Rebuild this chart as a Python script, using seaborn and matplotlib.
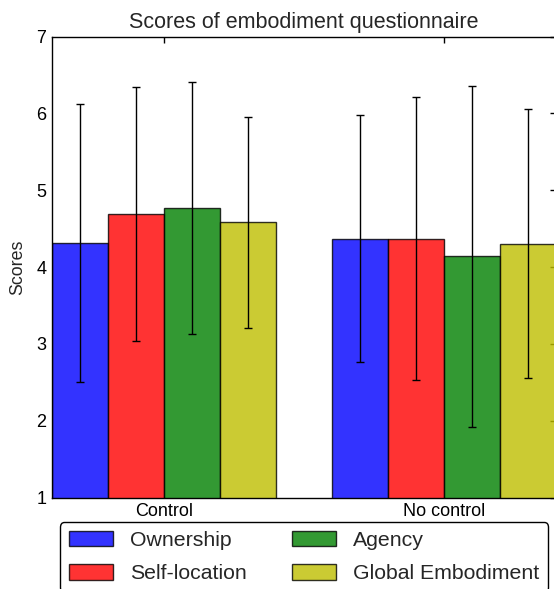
import matplotlib
matplotlib.use("Agg")
import matplotlib.pyplot as plt
import seaborn as sns
import pandas as pd

# Questionnaire results: mean score and standard deviation per condition
groups = ["Control", "No control"]
measures = ["Ownership", "Self-location", "Agency", "Global Embodiment"]
control_means = [4.31, 4.69, 4.77, 4.58]
control_sd = [1.81, 1.65, 1.64, 1.37]
nocontrol_means = [4.37, 4.37, 4.14, 4.30]
nocontrol_sd = [1.61, 1.84, 2.22, 1.75]
y_ticks = [1, 2, 3, 4, 5, 6, 7]

bar_colors = ["#0000ff", "#ff0000", "#008000", "#bfbf00"]

sns.set_style("white")
plt.rcParams["font.family"] = ["Liberation Sans", "DejaVu Sans"]
plt.rcParams["axes.linewidth"] = 1.0

rows = []
for g, means, sds in [(groups[0], control_means, control_sd),
                      (groups[1], nocontrol_means, nocontrol_sd)]:
    for m, v, s in zip(measures, means, sds):
        rows.append({"group": g, "measure": m, "score": v, "sd": s})
df = pd.DataFrame(rows)

fig = plt.figure(figsize=(5.54, 5.89), dpi=100)
ax = fig.add_axes([52 / 554, 1 - 497.5 / 589, 504 / 554, 461 / 589])

sns.barplot(data=df, x="group", y="score", hue="measure", order=groups,
            hue_order=measures, palette=bar_colors, saturation=1, alpha=0.8,
            edgecolor="black", linewidth=1.0, errorbar=None, ax=ax)

# standard-deviation whiskers at the centre of each bar
sd_lookup = {(r.group, r.measure): r.sd for r in df.itertuples()}
for measure, container in zip(measures, ax.containers):
    for group, bar in zip(groups, container):
        xc = bar.get_x() + bar.get_width() / 2
        ax.errorbar(xc, bar.get_height(), yerr=sd_lookup[(group, measure)],
                    fmt="none", ecolor="black", elinewidth=1.0, capsize=3,
                    capthick=1.0, zorder=5)

ax.set_xlim(-0.4, 1.4)
ax.set_ylim(1, 7)
ax.set_yticks(y_ticks)
ax.set_xlabel("")
ax.set_ylabel("Scores", fontsize=12.8, labelpad=7)
ax.set_title("Scores of embodiment questionnaire", fontsize=15.5, pad=6)
for s in ax.spines.values():
    s.set_visible(True)
    s.set_color("black")
ax.tick_params(direction="in", top=True, right=True, length=4, width=1,
               labelsize=13, pad=4, colors="black")

handles, labels = ax.get_legend_handles_labels()
if ax.legend_ is not None:
    ax.legend_.remove()
leg = fig.legend(handles, labels, loc="upper center", ncol=2,
                 bbox_to_anchor=(304 / 554, 1 - 522.3 / 589),
                 bbox_transform=fig.transFigure, borderaxespad=0,
                 fontsize=15.3, fancybox=True, framealpha=1,
                 edgecolor="black", handlelength=2.1, handleheight=0.75,
                 labelspacing=0.66, columnspacing=2.1)
leg.get_frame().set_linewidth(1.0)

fig.savefig("out.png", dpi=100)
